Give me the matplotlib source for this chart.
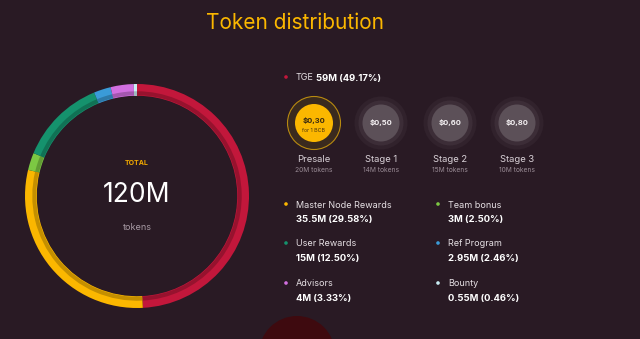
import matplotlib
matplotlib.use("Agg")
import matplotlib.pyplot as plt
import matplotlib.colors as mcolors
from matplotlib.patches import Circle

# data
segment_names = ["TGE", "Master Node Rewards", "Team bonus", "User Rewards",
                 "Ref Program", "Advisors", "Bounty"]
segment_pct = [49.17, 29.58, 2.50, 12.50, 2.46, 3.33, 0.46]
segment_colors = ["#c2173b", "#fbb700", "#7cc843", "#15926d", "#3a9bd8", "#d26fe0", "#c9eef4"]

stage_names = ["Presale", "Stage 1", "Stage 2", "Stage 3"]
stage_prices = ["$0,30", "$0,50", "$0,60", "$0,80"]
stage_tokens = ["20M tokens", "14M tokens", "15M tokens", "10M tokens"]

legend_names = ["Master Node Rewards", "User Rewards", "Advisors",
                "Team bonus", "Ref Program", "Bounty"]
legend_values = ["35.5M (29.58%)", "15M (12.50%)", "4M (3.33%)",
                 "3M (2.50%)", "2.95M (2.46%)", "0.55M (0.46%)"]
legend_colors = ["#fbb700", "#15926d", "#d26fe0", "#7cc843", "#3a9bd8", "#c9eef4"]

BG = "#291a24"
FONT = "Inter"

fig = plt.figure(figsize=(6.4, 3.39), dpi=100, facecolor=BG)

# donut axes: centre (137,196) px, radius 112 px
W, H = 640, 339
cx, cy, r = 137, 196, 112
half = r * 1.25
pax = fig.add_axes([(cx - half) / W, (H - cy - half) / H, 2 * half / W, 2 * half / H])
pax.set_facecolor("none")
pax.pie(segment_pct, colors=segment_colors, startangle=90, counterclock=False,
        radius=1.0, wedgeprops=dict(width=0.105, linewidth=0))
dark = [tuple(c * 0.78 for c in mcolors.to_rgb(col)) for col in segment_colors]
pax.pie(segment_pct, colors=dark, startangle=90, counterclock=False,
        radius=0.935, wedgeprops=dict(width=0.035, linewidth=0))
pax.set_xlim(-1.25, 1.25)
pax.set_ylim(-1.25, 1.25)
pax.set_aspect("equal")
pax.axis("off")

# overlay axes in pixel coordinates
ax = fig.add_axes([0, 0, 1, 1], zorder=2)
ax.set_xlim(0, W)
ax.set_ylim(H, 0)
ax.axis("off")
ax.patch.set_alpha(0)

ax.text(295, 23, "Token distribution", color="#fbb700", fontsize=15,
        ha="center", va="center", family=FONT)

ax.text(cx, 163, "TOTAL", color="#f0a800", fontsize=5, fontweight="bold",
        ha="center", va="center", family=FONT)
ax.text(cx, 195, "120M", color="white", fontsize=19,
        ha="center", va="center", family=FONT)
ax.text(cx, 227, "tokens", color="#a89aa4", fontsize=6.5,
        ha="center", va="center", family=FONT)

# TGE line
ax.add_patch(Circle((286, 77), 1.8, color=segment_colors[0], lw=0))
ax.text(296, 78, "TGE", color="#e6e0e4", fontsize=6.5, ha="left", va="center", family=FONT)
ax.text(315.5, 78, "59M (49.17%)", color="white", fontsize=6.8, fontweight="bold",
        ha="left", va="center", family=FONT)

# stages
xs = [314, 381, 450, 517]
for i, (name, price, tok) in enumerate(zip(stage_names, stage_prices, stage_tokens)):
    x, y = xs[i], 123
    if i == 0:
        ax.add_patch(Circle((x, y), 26.5, facecolor="#3a2a1e", edgecolor="#b88a10", lw=0.8))
        ax.add_patch(Circle((x, y), 19, color="#fbb700", lw=0))
        ax.text(x, y - 3, price, color="#3a2a10", fontsize=5.5, fontweight="bold",
                ha="center", va="center", family=FONT)
        ax.text(x, y + 7, "for 1 BCB", color="#4a3410", fontsize=3.8,
                ha="center", va="center", family=FONT)
    else:
        ax.add_patch(Circle((x, y), 26.5, color="#31222c", lw=0))
        ax.add_patch(Circle((x, y), 22.5, color="#3c2d37", lw=0))
        ax.add_patch(Circle((x, y), 18.5, color="#5c5058", lw=0))
        ax.text(x, y, price, color="#f2eef0", fontsize=5.5, fontweight="bold",
                ha="center", va="center", family=FONT)
    ax.text(x, 159, name, color="#d8d0d6", fontsize=6.8, ha="center", va="center", family=FONT)
    ax.text(x, 170, tok, color="#9a8c96", fontsize=4.8, ha="center", va="center", family=FONT)

# bottom legend
col_x = [286, 438]
row_y = [205, 244, 284]
for i, (name, val, col) in enumerate(zip(legend_names, legend_values, legend_colors)):
    bx = col_x[i // 3]
    y = row_y[i % 3]
    ax.add_patch(Circle((bx, y - 1), 1.8, color=col, lw=0))
    ax.text(bx + 10, y, name, color="#e6e0e4", fontsize=6.5, ha="left", va="center", family=FONT)
    ax.text(bx + 10, y + 14.5, val, color="white", fontsize=6.8, fontweight="bold",
            ha="left", va="center", family=FONT)

# partial dark red circle at bottom
ax.add_patch(Circle((297, 354), 38, color="#3e0a0f", lw=0))

fig.savefig("out.png", dpi=100, facecolor=BG)
